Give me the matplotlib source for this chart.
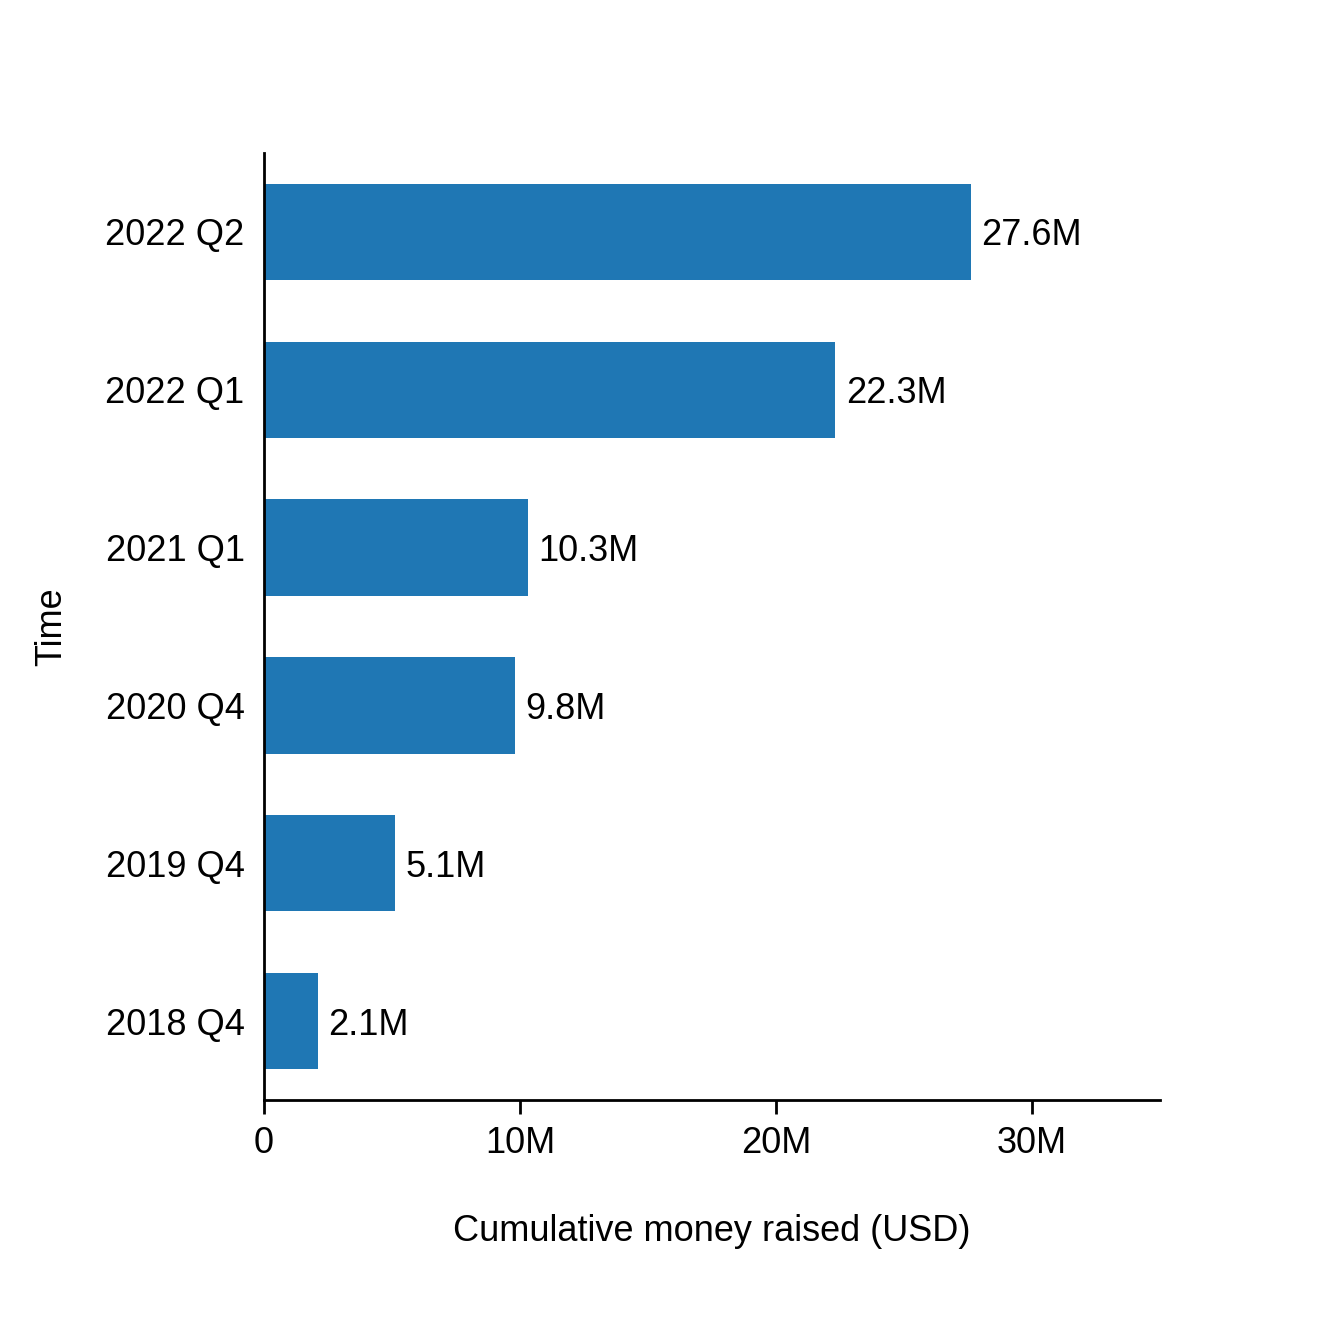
import matplotlib
matplotlib.use("Agg")
import matplotlib.pyplot as plt
from matplotlib.ticker import FuncFormatter

plt.rcParams['font.family'] = ['Liberation Sans', 'DejaVu Sans']

quarters = ["2018 Q4", "2019 Q4", "2020 Q4", "2021 Q1", "2022 Q1", "2022 Q2"]
raised = [2.1e6, 5.1e6, 9.8e6, 10.3e6, 22.3e6, 27.6e6]
labels = ["2.1M", "5.1M", "9.8M", "10.3M", "22.3M", "27.6M"]

def millions(x, pos):
	if x == 0:
		return "0"
	return "%dM" % (x / 1e6)

fig = plt.figure(figsize=(13.2, 13.2), dpi=100)
ax = fig.add_axes([0.2, 0.1667, 0.6788, 0.7174])

pos = list(range(len(quarters)))
ax.barh(pos, raised, height=0.61, color="#1f77b4")
for i in range(len(quarters)):
	ax.text(raised[i] + 0.42e6, pos[i], labels[i], va="center_baseline", ha="left", fontsize=26)

ax.set_xlim(0, 35e6)
ax.set_ylim(-0.5, 5.5)
ax.set_yticks(pos)
ax.set_yticklabels(quarters, va="center_baseline")
ax.set_xticks([0, 10e6, 20e6, 30e6])
ax.xaxis.set_major_formatter(FuncFormatter(millions))

ax.spines["top"].set_visible(False)
ax.spines["right"].set_visible(False)
ax.spines["left"].set_linewidth(2)
ax.spines["bottom"].set_linewidth(2)
ax.tick_params(axis="x", length=10, width=2, labelsize=26, pad=9)
ax.tick_params(axis="y", length=0, labelsize=26, pad=14)

ax.set_xlabel("Cumulative money raised (USD)", fontsize=26, labelpad=38)
ax.set_ylabel("Time", fontsize=26, labelpad=26)

plt.savefig("out.png")
